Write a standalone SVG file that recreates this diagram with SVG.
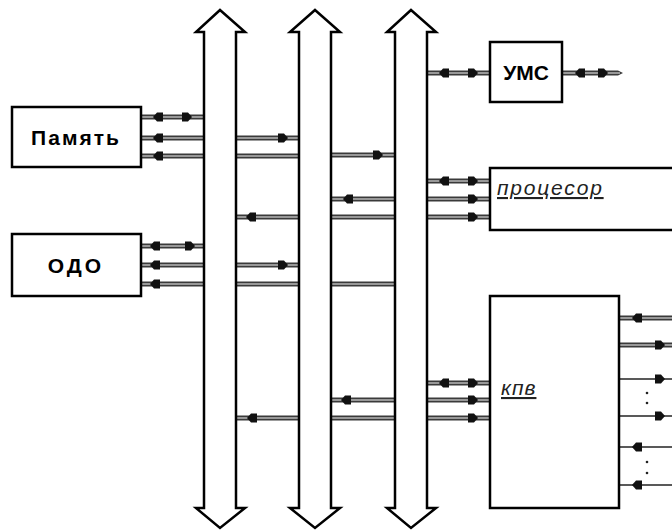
<svg xmlns="http://www.w3.org/2000/svg" width="672" height="530" viewBox="0 0 672 530">
<style>
.bus{fill:#fff;stroke:#000;stroke-width:2.5;stroke-linejoin:miter}
.box{fill:#fff;stroke:#000;stroke-width:2.5}
.dl{stroke:#3a3a3a;stroke-width:5}
.dli{stroke:#b8b8b8;stroke-width:1.3}
.sl{stroke:#222;stroke-width:1.6}
.mk{fill:#111}
.lb{font-family:"Liberation Sans",Arial,sans-serif;font-weight:bold;font-size:21px;fill:#000;text-anchor:middle}
.it{font-family:"Liberation Sans",Arial,sans-serif;font-style:italic;font-size:21px;fill:#222;text-decoration:underline}
.dot{fill:#222}
</style>
<defs>
<path id="mr" class="mk" d="M-5,-4.5 H1 L5,0 L1,4.5 H-5 Z"/>
<path id="ml" class="mk" d="M5,-4.5 H-1 L-5,0 L-1,4.5 H5 Z"/>
</defs>
<g id="connectors">
<!-- Память - Bus1 -->
<line class="dl" x1="141" y1="117" x2="204" y2="117"/><line class="dli" x1="141" y1="117" x2="204" y2="117"/>
<line class="dl" x1="141" y1="138" x2="204" y2="138"/><line class="dli" x1="141" y1="138" x2="204" y2="138"/>
<line class="dl" x1="141" y1="156" x2="204" y2="156"/><line class="dli" x1="141" y1="156" x2="204" y2="156"/>
<use href="#ml" x="158" y="117"/><use href="#mr" x="187" y="117"/>
<use href="#ml" x="158" y="138"/><use href="#ml" x="158" y="156"/>
<!-- ОДО - Bus1 -->
<line class="dl" x1="141" y1="246" x2="204" y2="246"/><line class="dli" x1="141" y1="246" x2="204" y2="246"/>
<line class="dl" x1="141" y1="265" x2="204" y2="265"/><line class="dli" x1="141" y1="265" x2="204" y2="265"/>
<line class="dl" x1="141" y1="284" x2="204" y2="284"/><line class="dli" x1="141" y1="284" x2="204" y2="284"/>
<use href="#ml" x="155" y="246"/><use href="#mr" x="190" y="246"/>
<use href="#ml" x="155" y="265"/><use href="#ml" x="155" y="284"/>
<!-- Bus1 - Bus2 -->
<line class="dl" x1="236" y1="138" x2="299" y2="138"/><line class="dli" x1="236" y1="138" x2="299" y2="138"/>
<line class="dl" x1="236" y1="156" x2="299" y2="156"/><line class="dli" x1="236" y1="156" x2="299" y2="156"/>
<line class="dl" x1="236" y1="217" x2="299" y2="217"/><line class="dli" x1="236" y1="217" x2="299" y2="217"/>
<line class="dl" x1="236" y1="265" x2="299" y2="265"/><line class="dli" x1="236" y1="265" x2="299" y2="265"/>
<line class="dl" x1="236" y1="284" x2="299" y2="284"/><line class="dli" x1="236" y1="284" x2="299" y2="284"/>
<line class="dl" x1="236" y1="418" x2="299" y2="418"/><line class="dli" x1="236" y1="418" x2="299" y2="418"/>
<use href="#mr" x="283" y="138"/><use href="#ml" x="251" y="217"/>
<use href="#mr" x="283" y="265"/><use href="#ml" x="252" y="418"/>
<!-- Bus2 - Bus3 -->
<line class="dl" x1="331" y1="155" x2="394" y2="155"/><line class="dli" x1="331" y1="155" x2="394" y2="155"/>
<line class="dl" x1="331" y1="199" x2="394" y2="199"/><line class="dli" x1="331" y1="199" x2="394" y2="199"/>
<line class="dl" x1="331" y1="217" x2="394" y2="217"/><line class="dli" x1="331" y1="217" x2="394" y2="217"/>
<line class="dl" x1="331" y1="284" x2="394" y2="284"/><line class="dli" x1="331" y1="284" x2="394" y2="284"/>
<line class="dl" x1="331" y1="400" x2="394" y2="400"/><line class="dli" x1="331" y1="400" x2="394" y2="400"/>
<line class="dl" x1="331" y1="418" x2="394" y2="418"/><line class="dli" x1="331" y1="418" x2="394" y2="418"/>
<use href="#mr" x="378" y="155"/><use href="#ml" x="348" y="199"/><use href="#ml" x="346" y="400"/>
<!-- Bus3 - УМС -->
<line class="dl" x1="427" y1="73" x2="490" y2="73"/><line class="dli" x1="427" y1="73" x2="490" y2="73"/>
<use href="#ml" x="444" y="73"/><use href="#mr" x="473" y="73"/>
<path d="M562,70.5 H618 L623,73 L618,75.5 H562 Z" fill="#3a3a3a"/><line class="dli" x1="562" y1="73" x2="620" y2="73"/>
<use href="#ml" x="580" y="73"/><use href="#mr" x="603" y="73"/>
<!-- Bus3 - процесор -->
<line class="dl" x1="427" y1="181" x2="490" y2="181"/><line class="dli" x1="427" y1="181" x2="490" y2="181"/>
<line class="dl" x1="427" y1="199" x2="490" y2="199"/><line class="dli" x1="427" y1="199" x2="490" y2="199"/>
<line class="dl" x1="427" y1="217" x2="490" y2="217"/><line class="dli" x1="427" y1="217" x2="490" y2="217"/>
<use href="#ml" x="444" y="181"/><use href="#mr" x="473" y="181"/>
<use href="#mr" x="473" y="199"/><use href="#mr" x="473" y="217"/>
<!-- Bus3 - кпв -->
<line class="dl" x1="427" y1="383" x2="490" y2="383"/><line class="dli" x1="427" y1="383" x2="490" y2="383"/>
<line class="dl" x1="427" y1="400" x2="490" y2="400"/><line class="dli" x1="427" y1="400" x2="490" y2="400"/>
<line class="dl" x1="427" y1="418" x2="490" y2="418"/><line class="dli" x1="427" y1="418" x2="490" y2="418"/>
<use href="#ml" x="444" y="383"/><use href="#mr" x="473" y="383"/>
<use href="#mr" x="473" y="400"/><use href="#mr" x="473" y="418"/>
<!-- кпв outputs -->
<line class="dl" x1="619" y1="318" x2="672" y2="318"/><line class="dli" x1="619" y1="318" x2="672" y2="318"/>
<line class="dl" x1="619" y1="345" x2="672" y2="345"/><line class="dli" x1="619" y1="345" x2="672" y2="345"/>
<line class="sl" x1="619" y1="379" x2="672" y2="379"/>
<line class="sl" x1="619" y1="416" x2="672" y2="416"/>
<line class="sl" x1="619" y1="447" x2="672" y2="447"/>
<line class="sl" x1="619" y1="485" x2="672" y2="485"/>
<use href="#ml" x="637" y="318"/><use href="#mr" x="660" y="345"/>
<use href="#mr" x="660" y="379"/><use href="#mr" x="660" y="416"/>
<use href="#ml" x="637" y="447"/><use href="#ml" x="637" y="485"/>
<circle class="dot" cx="647" cy="393" r="1.3"/><circle class="dot" cx="647" cy="403" r="1.3"/>
<circle class="dot" cx="647" cy="462" r="1.3"/><circle class="dot" cx="647" cy="473" r="1.3"/>
</g>
<g id="bus1"><path class="bus" d="M220,10 L245,32 L236,32 L236,508 L245,508 L220,528 L196,508 L204,508 L204,32 L196,32 Z"/></g>
<g id="bus2"><path class="bus" d="M315,10 L340,32 L331,32 L331,508 L340,508 L315,528 L290,508 L299,508 L299,32 L290,32 Z"/></g>
<g id="bus3"><path class="bus" d="M411,10 L436,32 L427,32 L427,508 L436,508 L411,528 L387,508 L395,508 L395,32 L387,32 Z"/></g>
<g id="pamyat"><rect class="box" x="12" y="107" width="129" height="60"/><text class="lb" x="76" y="145" letter-spacing="2">Память</text></g>
<g id="odo"><rect class="box" x="12" y="234" width="129" height="62"/><text class="lb" x="76" y="273" letter-spacing="3">ОДО</text></g>
<g id="ums"><rect class="box" x="490" y="42" width="72" height="60"/><text class="lb" x="526" y="80">УМС</text></g>
<g id="procesor"><rect class="box" x="490" y="168" width="200" height="62"/><text class="it" x="497" y="195" letter-spacing="1.8">процесор</text></g>
<g id="kpv"><rect class="box" x="490" y="296" width="129" height="212"/><text class="it" x="501" y="395" letter-spacing="1">кпв</text></g>
</svg>
